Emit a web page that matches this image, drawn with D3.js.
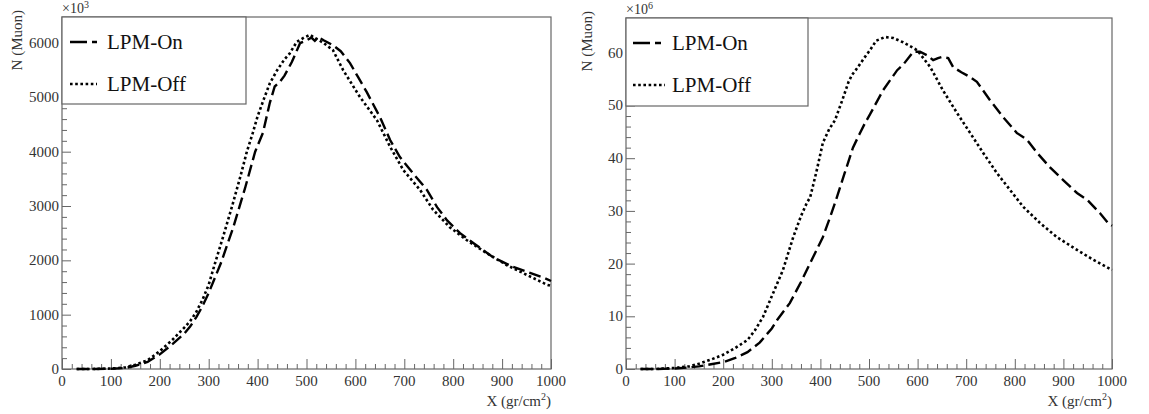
<!DOCTYPE html>
<html><head><meta charset="utf-8">
<script src="https://cdn.jsdelivr.net/npm/d3@7"></script>
<style>
body{margin:0;background:#fff;}
svg{display:block;font-family:'Liberation Serif','Tinos','DejaVu Serif','Times New Roman',serif;}
</style></head>
<body><svg id="c" width="1149" height="414"></svg>
<script>
// ---- data (left panel, N in 10^3) ----
const leftOnX  = [30,60,100,130,150,175,200,225,250,262,275,287,300,325,350,375,395,411,425,435,445,455,470,487,500,510,517,524,535,554,570,589,605,623,650,671,691,718,746,767,787,814,841,881,922,960,988,1000];
const leftOnN  = [0,0,5,20,60,130,270,450,650,780,960,1150,1400,1950,2600,3350,4000,4350,4900,5200,5280,5400,5650,6000,6050,6100,6040,6110,6050,5960,5850,5630,5380,5100,4640,4215,3900,3600,3300,2980,2740,2500,2320,2060,1880,1760,1670,1620];
const leftOffX = [30,60,100,130,150,175,200,225,250,262,274,287,300,313,330,348,365,378,390,400,412,425,440,455,465,480,495,507,520,535,554,575,609,644,671,698,732,759,793,828,869,910,951,992,1000];
const leftOffN = [0,0,8,30,80,160,330,530,760,880,1040,1270,1550,1950,2450,3000,3550,4000,4340,4650,4950,5260,5500,5700,5800,6020,6100,6150,6080,6000,5870,5500,5010,4580,4090,3660,3300,2930,2610,2370,2130,1910,1730,1550,1530];
// ---- data (right panel, N in 10^6) ----
const rightOnX  = [30,60,100,130,150,175,200,225,250,275,300,311,337,360,379,405,420,434,450,467,480,492,502,529,545,558,570,591,605,620,632,642,650,663,673,690,708,722,749,776,804,825,846,872,899,928,949,975,992,1000];
const rightOnN  = [0,0,0.1,0.3,0.5,0.9,1.3,2.1,3.2,5.0,7.7,9.3,12.5,16.5,20.1,25.0,28.8,32.6,37.2,42.0,44.5,46.7,48.3,52.9,55.0,56.7,57.7,60.2,60.2,59.5,58.6,59.0,59.2,59.0,57.3,56.3,55.4,54.5,51.0,47.8,44.8,43.5,41.0,38.3,35.9,33.4,32.1,29.6,27.7,27.2];
const rightOffX = [30,60,100,130,150,175,200,225,250,265,282,300,323,344,360,372,379,392,405,418,430,445,458,465,475,490,502,515,533,550,570,599,626,652,681,708,735,763,790,817,852,887,928,960,992,1000];
const rightOffN = [0,0,0.2,0.5,1.0,1.8,2.7,4.0,5.5,7.3,9.9,13.8,18.8,25.0,29.0,31.5,32.6,37.5,42.9,45.5,47.2,51.0,54.5,55.8,57.0,59.0,60.5,62.3,63.0,62.8,62.0,60.5,57.3,52.9,48.6,44.8,41.0,37.2,34.0,30.8,27.7,25.0,22.6,20.8,19.2,18.8];
// ---- axis ticks / labels ----
const xTicks = [0,100,200,300,400,500,600,700,800,900,1000];
const leftYTicks = [0,1000,2000,3000,4000,5000,6000];
const rightYTicks = [0,10,20,30,40,50,60];
const seriesNames = ["LPM-On","LPM-Off"];
const xTitle = "X (gr/cm", yTitle = "N (Muon)";

const svg = d3.select("#c");
const axisCol = "#666", textCol = "#333";

function panel(cfg){
  const g = svg.append("g");
  const x = d3.scaleLinear().domain([0,1000]).range([cfg.x0, cfg.x1]);
  const y = d3.scaleLinear().domain([0,cfg.ymax]).range([369, cfg.top]);
  g.append("rect").attr("x",cfg.x0).attr("y",cfg.top).attr("width",cfg.x1-cfg.x0).attr("height",369-cfg.top)
    .attr("fill","none").attr("stroke",axisCol).attr("stroke-width",1.2);
  const xMinor = d3.range(0,1001,20).filter(v=>v%100!==0);
  g.append("g").attr("transform",`translate(0,369)`)
    .call(d3.axisTop(x).tickValues(xMinor).tickSize(5).tickFormat(""))
    .call(a=>{a.select(".domain").remove();a.selectAll("line").attr("stroke",axisCol);});
  g.append("g").attr("transform",`translate(0,369)`)
    .call(d3.axisTop(x).tickValues(xTicks).tickSize(10).tickFormat(""))
    .call(a=>{a.select(".domain").remove();a.selectAll("line").attr("stroke",axisCol);});
  g.selectAll(".xl").data(xTicks).join("text").attr("x",d=>x(d)).attr("y",386)
    .attr("text-anchor","middle").attr("font-size",15).attr("fill",textCol).text(d=>d);
  const yt = cfg.yTicks, step = yt[1]-yt[0];
  const yMinor = d3.range(0,cfg.ymax,step/5).filter(v=>Math.abs(v/step-Math.round(v/step))>1e-6);
  g.append("g").attr("transform",`translate(${cfg.x0},0)`)
    .call(d3.axisRight(y).tickValues(yMinor).tickSize(5).tickFormat(""))
    .call(a=>{a.select(".domain").remove();a.selectAll("line").attr("stroke",axisCol);});
  g.append("g").attr("transform",`translate(${cfg.x0},0)`)
    .call(d3.axisRight(y).tickValues(yt).tickSize(9).tickFormat(""))
    .call(a=>{a.select(".domain").remove();a.selectAll("line").attr("stroke",axisCol);});
  g.selectAll(".yl").data(yt).join("text").attr("x",cfg.x0-3).attr("y",d=>y(d)+5)
    .attr("text-anchor","end").attr("font-size",15).attr("fill",textCol).text(d=>d);
  const ex = g.append("text").attr("x",cfg.x0).attr("y",cfg.top-4).attr("font-size",14).attr("fill",textCol);
  ex.append("tspan").text("×10");
  ex.append("tspan").attr("dy",-5).attr("font-size",10).text(cfg.exp);
  const xt = g.append("text").attr("x",cfg.x1).attr("y",406).attr("text-anchor","end").attr("font-size",15).attr("fill",textCol);
  xt.append("tspan").text(xTitle);
  xt.append("tspan").attr("dy",-6).attr("font-size",10).text("2");
  xt.append("tspan").attr("dy",6).text(")");
  g.append("text").attr("transform",`translate(${cfg.ytx},${cfg.top-7}) rotate(-90)`)
    .attr("text-anchor","end").attr("font-size",15).attr("fill",textCol).text(yTitle);
  const line = d3.line().x(d=>x(d[0])).y(d=>y(d[1]));
  g.append("path").datum(d3.zip(cfg.offX,cfg.offN)).attr("d",line).attr("fill","none")
    .attr("stroke","#000").attr("stroke-width",2.6).attr("stroke-dasharray","2.6,2.6");
  g.append("path").datum(d3.zip(cfg.onX,cfg.onN)).attr("d",line).attr("fill","none")
    .attr("stroke","#000").attr("stroke-width",2.4).attr("stroke-dasharray","12,5");
  g.append("rect").attr("x",cfg.x0).attr("y",cfg.top).attr("width",cfg.legW).attr("height",cfg.legH)
    .attr("fill","#fff").attr("stroke",axisCol).attr("stroke-width",1.2);
  const ly = [cfg.top+25, cfg.top+67];
  g.append("line").attr("x1",cfg.lx0).attr("x2",cfg.lx1).attr("y1",ly[0]).attr("y2",ly[0])
    .attr("stroke","#000").attr("stroke-width",2.6).attr("stroke-dasharray","17,5,6,40");
  g.append("line").attr("x1",cfg.lx0).attr("x2",cfg.lx1).attr("y1",ly[1]).attr("y2",ly[1])
    .attr("stroke","#000").attr("stroke-width",2.6).attr("stroke-dasharray","2.6,2.6");
  seriesNames.forEach((s,i)=>{
    g.append("text").attr("x",cfg.ltx).attr("y",ly[i]+7).attr("font-size",21).attr("fill","#111").text(s);
  });
}

panel({x0:62,x1:551,top:17,ymax:6479,yTicks:leftYTicks,exp:"3",ytx:22,
  onX:leftOnX,onN:leftOnN,offX:leftOffX,offN:leftOffN,legW:184,legH:87,lx0:70,lx1:97,ltx:107});
panel({x0:626,x1:1112,top:18,ymax:66.6,yTicks:rightYTicks,exp:"6",ytx:592,
  onX:rightOnX,onN:rightOnN,offX:rightOffX,offN:rightOffN,legW:182,legH:88,lx0:633,lx1:665,ltx:672});
</script></body></html>
